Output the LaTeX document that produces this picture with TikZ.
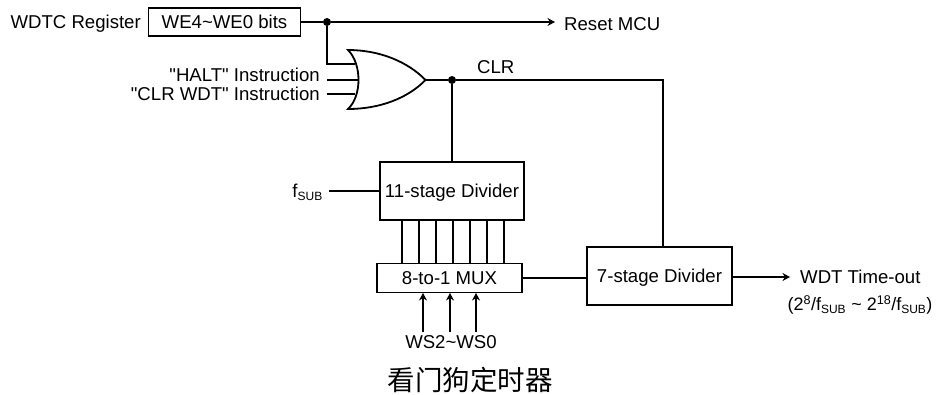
\documentclass[tikz,border=0pt]{standalone}
\usepackage{fontspec}
\setmainfont{Liberation Sans}
\newfontfamily\plainfont{Liberation Sans}
\newfontfamily\cjkfont{Noto Sans CJK SC}
\usetikzlibrary{arrows.meta,calc}
\tikzset{
  x=1pt,y=-1pt,
  wire/.style={line width=1.8pt,line cap=butt},
  arrowwire/.style={wire,-{Stealth[length=7.5pt,width=8pt]}},
  boxnode/.style={draw,line width=1.8pt,inner sep=0pt,text height=13.3pt,text depth=0pt,font=\fontsize{18.6}{21}\selectfont},
  lab/.style={inner sep=0pt,text height=13.3pt,text depth=0pt,font=\fontsize{18.6}{21}\selectfont},
  junction/.style={circle,fill=black,inner sep=0pt,minimum size=8pt},
}
\newcommand{\sbs}[1]{\textsubscript{\fontsize{12}{12}\selectfont #1}}
\newcommand{\qt}{{\plainfont\symbol{34}}}
\begin{document}
\begin{tikzpicture}
\useasboundingbox (0,0) rectangle (936,395);
% boxes
\node[boxnode,minimum width=152pt,minimum height=28pt] (we) at (224.5,22) {WE4\textasciitilde WE0 bits};
\node[boxnode,minimum width=144pt,minimum height=58pt] (div11) at (452,191) {11-stage Divider};
\node[boxnode,minimum width=145pt,minimum height=29pt] (mux) at (449.5,278) {8-to-1 MUX};
\node[boxnode,minimum width=145pt,minimum height=58pt] (div7) at (659.5,276) {7-stage Divider};
% labels
\node[lab,anchor=east] (wdtc) at (141,22) {WDTC Register};
\node[lab,anchor=west] (reset) at (564,24) {Reset MCU};
\node[lab,anchor=east] (halt) at (320,75) {\qt HALT\qt{} Instruction};
\node[lab,anchor=east] (clrwdt) at (320,94) {\qt CLR WDT\qt{} Instruction};
\node[lab,anchor=west] (clr) at (477,67) {CLR};
\node[lab,anchor=east] (fsub) at (323,191) {f\sbs{SUB}};
\node[lab] (ws) at (451,342) {WS2\textasciitilde WS0};
\node[lab,anchor=west] (wdt) at (800,277) {WDT Time-out};
\node[inner sep=0pt,font=\fontsize{18}{21}\selectfont] (formula) at (860,305) {(2\textsuperscript{8}/f\sbs{SUB} \textasciitilde{} 2\textsuperscript{18}/f\sbs{SUB})};
\node[inner sep=0pt,font=\fontsize{27.5}{30}\selectfont\cjkfont] (title) at (470,380) {看门狗定时器};
% gate
\coordinate (gtl) at (348,50);
\coordinate (gbl) at (348,109);
\coordinate (gout) at (425.5,80);
\coordinate (pa) at (355,64);
\coordinate (pb) at (359,80);
\coordinate (pc) at (355,94);
\draw[wire,line join=miter] (gtl) .. controls (380,50) and (408,62) .. (gout)
  .. controls (408,98) and (380,109) .. (gbl)
  .. controls (362,96) and (362,64) .. (gtl) -- cycle;
% junctions
\node[junction] (j1) at (327,22) {};
\node[junction] (j2) at (452,80) {};
\coordinate (corner) at (663,80);
% connectors
\draw[wire] (we.east) -- (j1);
\draw[arrowwire] (j1) -- (555,22);
\draw[wire] (j1) |- (pa);
\draw[wire] (327,80) -- (pb);
\draw[wire] (327,94) -- (pc);
\draw[wire] (gout) -- (j2);
\draw[wire] (j2) -- (corner) -- (corner |- div7.north);
\draw[wire] (j2) -- (j2 |- div11.north);
\draw[wire] (329,191) -- (div11.west);
\foreach \px in {402,419,436,453,470,487,504}
  \draw[wire] (\px,220) -- (\px,263);
\draw[wire] (mux.east) -- (mux.east -| div7.west);
\draw[arrowwire] (div7.east |- 0,277) -- (790,277);
\foreach \px in {423,450,476}
  \draw[arrowwire] (\px,332) -- (\px,293);
\end{tikzpicture}
\end{document}
